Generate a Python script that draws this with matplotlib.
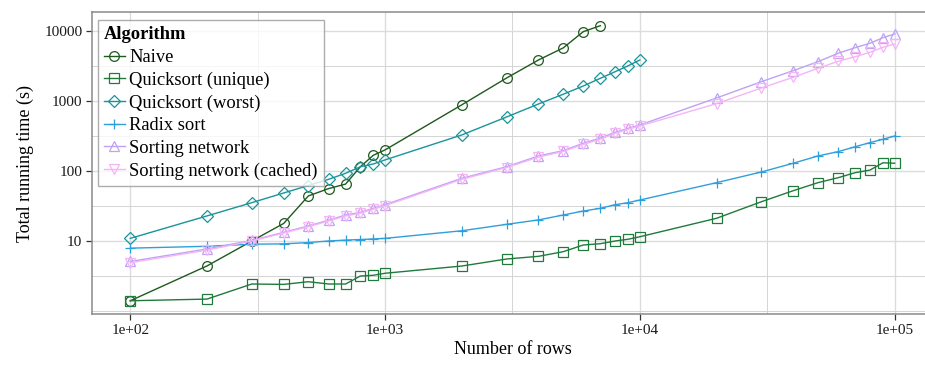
import numpy as np
import matplotlib
matplotlib.use("Agg")
import matplotlib.pyplot as plt
from matplotlib.ticker import FixedLocator, NullFormatter

plt.rcParams['font.family'] = ['Liberation Serif', 'DejaVu Serif']

# number of rows in each benchmark run
rows_to_1e3 = [100, 200, 300, 400, 500, 600, 700, 800, 900, 1000]
rows_to_7e3 = rows_to_1e3 + [2000, 3000, 4000, 5000, 6000, 7000]
rows_to_1e4 = rows_to_7e3 + [8000, 9000, 10000]
rows_to_1e5 = rows_to_1e4 + [20000, 30000, 40000, 50000, 60000, 70000, 80000, 90000, 100000]

# total running time (s)
naive = [1.40, 4.4, 10.0, 17.8, 44, 56, 65, 115, 168, 200,
         880, 2130, 3850, 5720, 9780, 11900]
qs_unique = [1.40, 1.48, 2.43, 2.40, 2.62, 2.43, 2.43, 3.16, 3.24, 3.46,
             4.39, 5.53, 6.04, 7.03, 8.77, 9.15, 10.0, 10.6, 11.5,
             21.1, 36.4, 52.3, 68.1, 80.2, 94.6, 103, 131, 129]
qs_worst = [10.9, 22.8, 35.3, 48.5, 62, 76, 92.7, 115, 126, 144,
            327, 591, 906, 1247, 1638, 2110, 2620, 3190, 3850]
radix = [7.9, 8.4, 9.0, 9.1, 9.5, 10.0, 10.3, 10.5, 10.7, 10.9,
         14.0, 17.3, 20.0, 23.5, 26.8, 29.3, 33.0, 35.3, 38.5,
         68.1, 96.8, 129, 164, 189, 222, 254, 284, 316]
sort_net = [5.1, 7.7, 10.2, 13.3, 16.4, 19.8, 23.5, 25.7, 29.3, 33.0,
            78.6, 115, 164, 195, 249, 296, 357, 407, 454,
            1104, 1888, 2710, 3640, 4800, 5770, 6670, 8020, 9060]
sort_net_cached = [4.9, 7.4, 10.0, 13.0, 16.0, 19.3, 22.8, 25.0, 28.5, 32.0,
                   76, 112, 158, 190, 240, 285, 345, 395, 440,
                   915, 1534, 2180, 2930, 3690, 4290, 4960, 5850, 6520]

series = [
    ("Naive", rows_to_7e3, naive, "#1e5a1e", "o"),
    ("Quicksort (unique)", rows_to_1e5, qs_unique, "#1f7a3c", "s"),
    ("Quicksort (worst)", rows_to_1e4, qs_worst, "#17959b", "D"),
    ("Radix sort", rows_to_1e5, radix, "#2f9fdc", "+"),
    ("Sorting network", rows_to_1e5, sort_net, "#bda2f5", "^"),
    ("Sorting network (cached)", rows_to_1e5, sort_net_cached, "#f6b4f6", "v"),
]

fig = plt.figure(figsize=(9.25, 3.68), dpi=100)
ax = fig.add_axes([0.0995, 0.1467, 0.909, 0.8207])

for name, x, y, col, mk in series:
    ax.plot(x, y, color=col, marker=mk, markersize=7 if mk != "D" else 6.5,
            markerfacecolor="none", markeredgewidth=0.9, linewidth=1.0,
            label=name)

ax.set_xscale("log")
ax.set_yscale("log")
ax.set_xlim(10 ** 1.85, 10 ** 5.15)
ax.set_ylim(10 ** -0.043, 10 ** 4.271)

xmaj = [1e2, 1e3, 1e4, 1e5]
ymaj = [10, 100, 1000, 10000]
ax.xaxis.set_major_locator(FixedLocator(xmaj))
ax.set_xticklabels(["1e+02", "1e+03", "1e+04", "1e+05"])
ax.yaxis.set_major_locator(FixedLocator(ymaj))
ax.set_yticklabels(["10", "100", "1000", "10000"])
ax.xaxis.set_minor_locator(FixedLocator([10 ** 2.5, 10 ** 3.5, 10 ** 4.5]))
ax.yaxis.set_minor_locator(FixedLocator([1, 10 ** 0.5, 10 ** 1.5, 10 ** 2.5, 10 ** 3.5]))
ax.xaxis.set_minor_formatter(NullFormatter())
ax.yaxis.set_minor_formatter(NullFormatter())

ax.grid(which="major", color="#dcdcdc", linewidth=1.0)
ax.grid(which="minor", color="#d4d4d4", linewidth=0.7)
ax.set_axisbelow(True)

ax.tick_params(which="major", direction="out", length=4, width=0.9,
               color="#333333", labelsize=11, labelcolor="#1a1a1a", pad=3)
ax.tick_params(which="minor", length=0)
for side in ["left", "bottom", "top", "right"]:
    ax.spines[side].set_color("#8a8a8a")
    ax.spines[side].set_linewidth(1.1)

ax.set_xlabel("Number of rows", fontsize=13, labelpad=3)
ax.set_ylabel("Total running time (s)", fontsize=13, labelpad=7)

leg = ax.legend(title="Algorithm", loc="upper left",
                bbox_to_anchor=(0.0068, 0.9735), borderaxespad=0,
                fontsize=13.3, title_fontproperties={"weight": "bold", "size": 13.3},
                frameon=True, fancybox=False, edgecolor="#999999",
                handlelength=1.1, handletextpad=0.25, labelspacing=0.3,
                borderpad=0.35)
leg._legend_box.align = "left"
leg.get_frame().set_linewidth(1.0)

fig.savefig("out.png", dpi=100)
